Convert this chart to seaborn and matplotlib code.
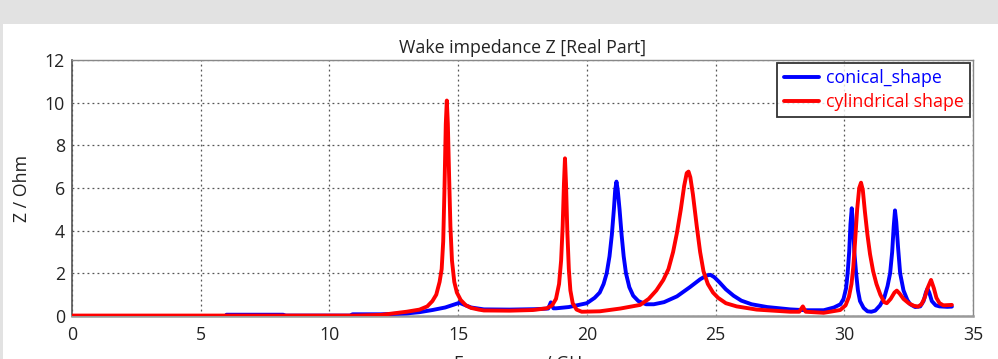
import matplotlib
matplotlib.use("Agg")
import matplotlib.pyplot as plt
import seaborn as sns
import pandas as pd
from matplotlib.patches import Rectangle

# ---------------- data ----------------
freq_conical = [6.0, 8.2, 8.3, 10.8, 10.9, 12.0, 13.0, 13.5, 14.0, 14.5, 14.8, 15.05,
                15.25, 15.5, 16.0, 17.0, 18.0, 18.5, 18.6, 18.7, 18.8, 19.3,
                20.0, 20.3, 20.5, 20.65, 20.77, 20.88, 20.97, 21.05, 21.1, 21.15, 21.2,
                21.27, 21.35, 21.43, 21.52, 21.65, 21.8, 22.0, 22.3, 22.6,
                23.0, 23.5, 24.0, 24.4, 24.65, 24.8, 24.95, 25.15, 25.4, 25.7, 26.0,
                26.4, 27.0, 27.9, 28.5, 29.2,
                29.6, 29.85, 29.97, 30.07, 30.13, 30.19, 30.24, 30.29, 30.34, 30.39,
                30.46, 30.53, 30.61, 30.75, 30.9, 31.05,
                31.2, 31.39, 31.55, 31.68, 31.78, 31.86, 31.92, 31.97, 32.02, 32.09,
                32.17, 32.3, 32.45, 32.56, 32.75, 32.95, 33.08, 33.17, 33.23, 33.3,
                33.4, 33.55, 33.7, 34.0, 34.18]
z_conical = [0.06, 0.06, 0.02, 0.02, 0.08, 0.08, 0.12, 0.18, 0.28, 0.40, 0.52, 0.62,
             0.52, 0.40, 0.31, 0.30, 0.32, 0.35, 0.64, 0.36, 0.36, 0.42,
             0.60, 0.85, 1.10, 1.50, 2.00, 2.80, 3.80, 5.00, 5.90, 6.30, 5.90,
             5.00, 3.80, 2.80, 2.00, 1.35, 0.95, 0.70, 0.55, 0.55,
             0.65, 0.92, 1.35, 1.72, 1.90, 1.93, 1.82, 1.58, 1.25, 0.95, 0.72,
             0.55, 0.42, 0.31, 0.27, 0.27,
             0.40, 0.55, 0.80, 1.30, 2.00, 3.00, 4.30, 5.05, 4.30, 3.00,
             2.00, 1.20, 0.70, 0.38, 0.22, 0.20,
             0.25, 0.50, 0.85, 1.40, 2.00, 3.00, 4.20, 4.95, 4.40, 3.20,
             2.00, 1.20, 0.75, 0.55, 0.42, 0.45, 0.70, 1.10, 1.28, 1.10,
             0.70, 0.50, 0.45, 0.43, 0.44]

freq_cylindrical = [0.0, 11.0, 12.0, 13.0, 13.5, 13.8, 14.0, 14.15, 14.28, 14.36, 14.42,
                    14.47, 14.52, 14.56, 14.6, 14.65, 14.7, 14.76, 14.85, 14.95, 15.1,
                    15.3, 15.5, 15.8, 16.0, 17.0, 17.9,
                    18.44, 18.65, 18.8, 18.92, 19.0, 19.06, 19.11, 19.15, 19.19, 19.24,
                    19.3, 19.36, 19.45, 19.6, 19.8, 20.5, 21.3,
                    22.07, 22.4, 22.7, 22.97, 23.17, 23.35, 23.5, 23.65, 23.78, 23.88,
                    23.95, 24.02, 24.12, 24.27, 24.4, 24.53, 24.7, 24.9, 25.1, 25.4,
                    25.82, 26.6, 27.9, 28.25, 28.39, 28.5, 29.2,
                    29.84, 30.05, 30.18, 30.28, 30.35, 30.42, 30.5, 30.58, 30.65, 30.72,
                    30.8, 30.9, 31.0, 31.12, 31.25, 31.4, 31.55, 31.65, 31.8, 31.95,
                    32.04, 32.15, 32.3, 32.5, 32.7, 32.87, 33.0, 33.12, 33.25, 33.37,
                    33.48, 33.58, 33.7, 33.85, 34.18]
z_cylindrical = [0.02, 0.02, 0.05, 0.20, 0.30, 0.45, 0.70, 1.00, 1.60, 2.20, 3.50,
                 6.00, 9.00, 10.10, 9.00, 6.50, 4.20, 2.60, 1.60, 1.10, 0.75,
                 0.50, 0.38, 0.30, 0.26, 0.25, 0.28,
                 0.36, 0.50, 0.80, 1.50, 2.60, 4.20, 6.20, 7.39, 6.20, 4.00,
                 2.20, 1.20, 0.60, 0.30, 0.20, 0.22, 0.35,
                 0.52, 0.80, 1.20, 1.69, 2.20, 3.00, 3.90, 5.00, 6.10, 6.70,
                 6.77, 6.50, 5.70, 4.20, 3.00, 2.10, 1.50, 1.10, 0.85, 0.60,
                 0.45, 0.30, 0.20, 0.20, 0.45, 0.20, 0.15,
                 0.28, 0.50, 0.90, 1.50, 2.30, 3.50, 5.00, 6.00, 6.25, 5.90,
                 4.90, 3.80, 2.90, 2.10, 1.50, 1.00, 0.65, 0.60, 0.80, 1.10,
                 1.19, 1.05, 0.80, 0.60, 0.48, 0.44, 0.55, 0.85, 1.35, 1.69,
                 1.30, 0.85, 0.60, 0.50, 0.52]

series_names = ["conical_shape", "cylindrical shape"]
series_colors = ["#0000ff", "#ff0000"]
x_ticks = [0, 5, 10, 15, 20, 25, 30, 35]
y_ticks = [0, 2, 4, 6, 8, 10, 12]
title_text = "Wake impedance Z [Real Part]"
x_label = "Frequency / GHz"
y_label = "Z / Ohm"

# ---------------- figure ----------------
sns.set_style("white")
plt.rcParams["font.family"] = ["Open Sans", "DejaVu Sans"]
FS = 12.8

W, H = 998, 359
fig = plt.figure(figsize=(W / 100, H / 100), dpi=100, facecolor="#e2e2e2")
fig.patches.append(Rectangle((3 / W, 0), 1, (H - 24) / H, transform=fig.transFigure,
                             facecolor="white", edgecolor="none", zorder=-10))

ax = fig.add_axes([72 / W, 1 - 316 / H, (973 - 72) / W, (316 - 60) / H])
ax.set_facecolor("white")

df_con = pd.DataFrame({"freq": freq_conical, "z": z_conical})
df_cyl = pd.DataFrame({"freq": freq_cylindrical, "z": z_cylindrical})
sns.lineplot(data=df_con, x="freq", y="z", ax=ax, color=series_colors[0], lw=2.8,
             label=series_names[0], sort=False, estimator=None, zorder=3)
sns.lineplot(data=df_cyl, x="freq", y="z", ax=ax, color=series_colors[1], lw=2.8,
             label=series_names[1], sort=False, estimator=None, zorder=4)

ax.set_xlim(0, 35)
ax.set_ylim(0, 12)
ax.set_xticks(x_ticks)
ax.set_yticks(y_ticks)
ax.grid(True, color="#555555", linestyle=(0, (1.5, 2.5)), linewidth=0.9)
ax.tick_params(axis="both", labelsize=FS, length=3, color="#777777",
               labelcolor="#222222", pad=2)
ax.tick_params(axis="x", pad=4)

for side, col, lw in [("left", "#555555", 1.2), ("bottom", "#999999", 1.8),
                      ("top", "#888888", 1.0), ("right", "#888888", 1.0)]:
    ax.spines[side].set_visible(True)
    ax.spines[side].set_color(col)
    ax.spines[side].set_linewidth(lw)

ax.set_title(title_text, fontsize=FS, color="#222222", pad=5)
ax.set_xlabel(x_label, fontsize=FS, color="#222222", labelpad=8)
ax.set_ylabel(y_label, fontsize=FS, color="#222222", labelpad=10)

leg = ax.legend(loc="upper right", fontsize=FS, frameon=True, fancybox=False,
                borderpad=0.35, handlelength=2.0, handletextpad=0.4, labelspacing=0.35,
                borderaxespad=0.15)
leg.get_frame().set_edgecolor("black")
leg.get_frame().set_linewidth(1.3)
for txt, c in zip(leg.get_texts(), series_colors):
    txt.set_color(c)

fig.savefig("out.png", dpi=100, facecolor=fig.get_facecolor())
